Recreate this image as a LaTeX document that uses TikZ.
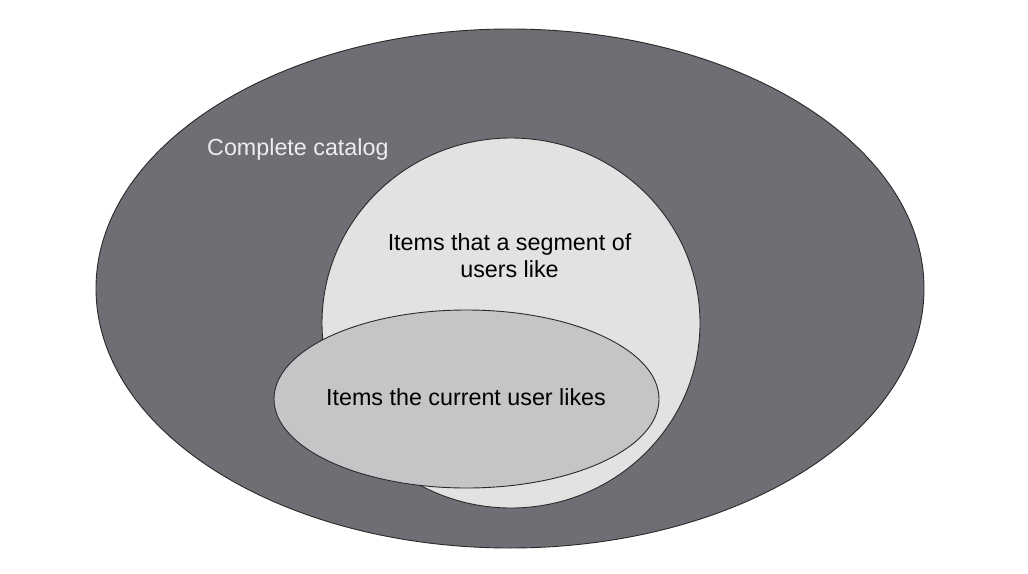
\documentclass[tikz,border=0pt]{standalone}
\usepackage{fontspec}
\setmainfont{Liberation Sans}
\usetikzlibrary{shapes.geometric}
\definecolor{catalogfill}{HTML}{6E6F74}
\definecolor{segmentfill}{HTML}{E2E2E2}
\definecolor{userfill}{HTML}{C4C5C7}
\definecolor{setline}{HTML}{2A2A2A}
\tikzset{
  font={\fontsize{23.3pt}{27pt}\selectfont}}

\begin{document}
\begin{tikzpicture}[x=1pt,y=-1pt,
  set/.style={ellipse, draw=setline, line width=0.9pt}]
\tikzstyle{every node}+=[inner sep=0pt]
\useasboundingbox (0,0) rectangle (1028,573);
\node [set, fill=catalogfill, minimum width=828pt, minimum height=519pt] (catalog) at (510,288.5) {};
\node [set, fill=segmentfill, minimum width=378pt, minimum height=370pt] (segment) at (511,323) {};
\node [set, fill=userfill, minimum width=385pt, minimum height=178pt] (user) at (466.5,399) {};
\node [anchor=base west, text=white!93!black] (catalogtext) at (207,155) {Complete catalog};
\node [align=center] (segmenttext) at (509.5,256) {Items that a segment of\\users like};
\node [anchor=base] (usertext) at (466,405) {Items the current user likes};
\end{tikzpicture}
\end{document}
